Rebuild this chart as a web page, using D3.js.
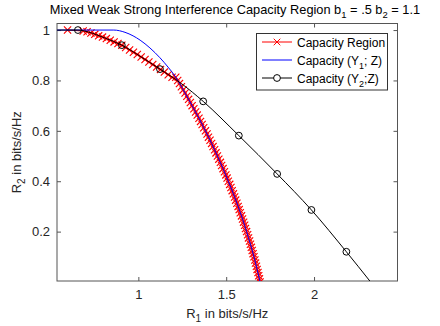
<!DOCTYPE html>
<html><head><meta charset="utf-8">
<script src="https://cdn.jsdelivr.net/npm/d3@7"></script>
<style>body{margin:0;background:#fff}svg{display:block}text{font-family:"Liberation Sans",Arial,sans-serif}</style>
</head><body><svg id="c" width="440" height="326"></svg>
<script>
// ---- data ----
const regionR1 = [0.597,
  0.686,0.708,0.730,0.752,0.774,0.796,0.818,0.840,0.862,0.884,0.906,0.928,0.950,0.972,0.994,1.016,1.038,1.060,1.082,1.104,1.126,1.148,1.170,1.192,
  1.213,
  1.224,1.234,1.245,1.255,1.266,1.276,1.286,1.296,1.306,1.316,1.326,1.335,1.345,1.354,1.363,1.372,1.382,1.391,1.399,1.408,1.417,1.425,1.434,1.442,1.450,
  1.458,1.467,1.474,1.482,1.490,1.498,1.505,1.512,1.520,1.527,1.534,1.541,1.548,1.554,1.561,1.568,1.574,1.580,1.587,1.593,1.599,1.605,1.610,1.616,1.622,
  1.627,1.633,1.638,1.643,1.648,1.653,1.658,1.663,1.667,1.672,1.676,1.681,1.685,1.689,1.693];
const regionR2 = [1.0,
  0.996,0.993,0.9885,0.983,0.977,0.972,0.966,0.9595,0.953,0.9465,0.940,0.931,0.921,0.912,0.903,0.893,0.883,0.873,0.8635,0.8536,0.8436,0.8332,0.8228,0.8124,
  0.8125,
  0.8,0.7875,0.775,0.7625,0.75,0.7375,0.725,0.7125,0.7,0.6875,0.675,0.6625,0.65,0.6375,0.625,0.6125,0.6,0.5875,0.575,0.5625,0.55,0.5375,0.525,0.5125,0.5,
  0.4875,0.475,0.4625,0.45,0.4375,0.425,0.4125,0.4,0.3875,0.375,0.3625,0.35,0.3375,0.325,0.3125,0.3,0.2875,0.275,0.2625,0.25,0.2375,0.225,0.2125,0.2,0.1875,
  0.175,0.1625,0.15,0.1375,0.125,0.1125,0.1,0.0875,0.075,0.0625,0.05,0.0375,0.025,0.0125,0.0];

const capY1R1 = [0.538,0.86,0.924,0.97,1.01,1.066,1.123,1.169,1.2085,1.266,1.306,1.345,1.382,1.417,1.45,1.482,1.512,1.541,1.568,1.593,1.616,1.638,1.658,1.676,1.693];
const capY1R2 = [1,1,0.991,0.977,0.96,0.929,0.89,0.853,0.8175,0.75,0.7,0.65,0.6,0.55,0.5,0.45,0.4,0.35,0.3,0.25,0.2,0.15,0.1,0.05,0];

const capY2R1 = [0.538,0.656,0.716,0.811,0.906,1.01,1.123,1.246,1.369,1.572,1.79,1.985,2.184,2.322];
const capY2R2 = [1,1,0.992,0.968,0.94,0.896,0.845,0.787,0.717,0.581,0.429,0.286,0.12,0];
const capY2Marker = [0,1,0,0,1,0,1,0,1,1,1,1,1,0];

const xTicks = [1, 1.5, 2];
const xTickLabels = ["1", "1.5", "2"];
const yTicks = [0.2, 0.4, 0.6, 0.8, 1];
const yTickLabels = ["0.2", "0.4", "0.6", "0.8", "1"];
const legendLabels = ["Capacity Region", "Capacity (Y|1|; Z)", " Capacity (Y|2|;Z)"];

// ---- layout ----
const svg = d3.select("#c");
const L = 57, R = 397.5, T = 23.5, B = 281;
const x = d3.scaleLinear().domain([0.537, 2.475]).range([L, R]);
const y = d3.scaleLinear().domain([0.004, 1.026]).range([B, T]);
const axisCol = "#555", textCol = "#262626";

svg.append("defs").append("clipPath").attr("id","clip")
  .append("rect").attr("x",L).attr("y",T).attr("width",R-L).attr("height",B-T);

// axes with inward ticks on all sides
const tk = 4;
const gB = svg.append("g").attr("transform",`translate(0,${B})`)
  .call(d3.axisBottom(x).tickValues(xTicks).tickSize(-tk).tickPadding(9).tickFormat((d,i)=>xTickLabels[i]));
const gT = svg.append("g").attr("transform",`translate(0,${T})`)
  .call(d3.axisTop(x).tickValues(xTicks).tickSize(-tk).tickFormat(""));
const gL = svg.append("g").attr("transform",`translate(${L},0)`)
  .call(d3.axisLeft(y).tickValues(yTicks).tickSize(-tk).tickPadding(7).tickFormat((d,i)=>yTickLabels[i]));
const gR = svg.append("g").attr("transform",`translate(${R},0)`)
  .call(d3.axisRight(y).tickValues(yTicks).tickSize(-tk).tickFormat(""));
[gB,gT,gL,gR].forEach(g=>{
  g.select(".domain").remove();
  g.selectAll("line").attr("stroke",axisCol);
  g.selectAll("text").attr("fill",textCol).style("font-size","13px").style("font-family",'"Liberation Sans",Arial,sans-serif');
});
svg.append("rect").attr("x",L).attr("y",T).attr("width",R-L).attr("height",B-T)
  .attr("fill","none").attr("stroke",axisCol).attr("stroke-width",1);

const plot = svg.append("g").attr("clip-path","url(#clip)");
const idx = a => d3.range(a.length);

// red capacity region (line + x markers)
plot.append("path").datum(idx(regionR1))
  .attr("d", d3.line().x(i=>x(regionR1[i])).y(i=>y(regionR2[i])))
  .attr("fill","none").attr("stroke","#f00").attr("stroke-width",1);
const m = 3.6;
plot.append("g").selectAll("path").data(idx(regionR1)).join("path")
  .attr("d", i=>{const cx=x(regionR1[i]), cy=y(regionR2[i]);
    return `M${cx-m},${cy-m}L${cx+m},${cy+m}M${cx-m},${cy+m}L${cx+m},${cy-m}`;})
  .attr("stroke","#f00").attr("stroke-width",1.15).attr("fill","none");

// blue
plot.append("path").datum(idx(capY1R1))
  .attr("d", d3.line().curve(d3.curveMonotoneX).x(i=>x(capY1R1[i])).y(i=>y(capY1R2[i])))
  .attr("fill","none").attr("stroke","#00f").attr("stroke-width",1);

// black with circles
plot.append("path").datum(idx(capY2R1))
  .attr("d", d3.line().curve(d3.curveMonotoneX).x(i=>x(capY2R1[i])).y(i=>y(capY2R2[i])))
  .attr("fill","none").attr("stroke","#000").attr("stroke-width",1);
plot.append("g").selectAll("circle").data(idx(capY2R1).filter(i=>capY2Marker[i])).join("circle")
  .attr("cx",i=>x(capY2R1[i])).attr("cy",i=>y(capY2R2[i])).attr("r",3.4)
  .attr("fill","none").attr("stroke","#000").attr("stroke-width",1);

// text helper with subscripts marked as |n|
function rich(sel, str, subSize){
  const parts = str.split("|");
  parts.forEach((p,k)=>{
    if(!p) return;
    if(k%2===1){
      sel.append("tspan").attr("dy",4).style("font-size",subSize).text(p);
    } else {
      const t = sel.append("tspan").text(p);
      if(k>0) t.attr("dy",-4);
    }
  });
}

// title
const title = svg.append("text").attr("x",235).attr("y",14).attr("text-anchor","middle")
  .attr("fill","#000").style("font-size","12.8px");
rich(title, "Mixed Weak Strong Interference Capacity Region b|1| = .5 b|2| = 1.1", "9.5px");

// axis labels
const xl = svg.append("text").attr("x",(L+R)/2).attr("y",318).attr("text-anchor","middle")
  .attr("fill",textCol).style("font-size","13px");
rich(xl, "R|1| in bits/s/Hz", "10px");
const yl = svg.append("text").attr("transform",`translate(21,${(T+B)/2}) rotate(-90)`).attr("text-anchor","middle")
  .attr("fill",textCol).style("font-size","13px");
rich(yl, "R|2| in bits/s/Hz", "10px");

// legend
const lg = svg.append("g");
lg.append("rect").attr("x",256.5).attr("y",33.5).attr("width",131).attr("height",56.5)
  .attr("fill","#fff").attr("stroke","#333").attr("stroke-width",1);
const ly = [42, 60, 78];
const lx0 = 262, lx1 = 292;
const lcol = ["#f00","#00f","#000"];
ly.forEach((yy,i)=>{
  lg.append("line").attr("x1",lx0).attr("x2",lx1).attr("y1",yy).attr("y2",yy).attr("stroke",lcol[i]).attr("stroke-width",1);
  const t = lg.append("text").attr("x",297).attr("y",yy+4.5).attr("fill","#000").style("font-size","12px");
  rich(t, legendLabels[i], "9px");
});
const cxm = (lx0+lx1)/2;
lg.append("path").attr("d",`M${cxm-3.3},${ly[0]-3.3}L${cxm+3.3},${ly[0]+3.3}M${cxm-3.3},${ly[0]+3.3}L${cxm+3.3},${ly[0]-3.3}`)
  .attr("stroke","#f00").attr("stroke-width",1);
lg.append("circle").attr("cx",cxm).attr("cy",ly[2]).attr("r",3.4).attr("fill","#fff").attr("stroke","#000");
</script></body></html>
